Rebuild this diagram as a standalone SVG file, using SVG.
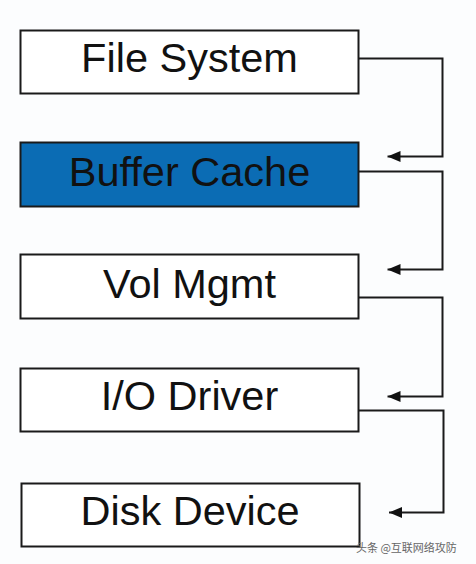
<svg xmlns="http://www.w3.org/2000/svg" width="476" height="564" viewBox="0 0 476 564">
<style>
.box{fill:#ffffff;stroke:#1a1a1a;stroke-width:2}
.blue{fill:#0b6cb4;stroke:#1a1a1a;stroke-width:2}
.lbl{font-family:"Liberation Sans",Arial,sans-serif;font-size:41.5px;fill:#111;text-anchor:middle}
.conn{fill:none;stroke:#1a1a1a;stroke-width:2}
</style>
<defs>
<marker id="arr" viewBox="0 0 13 11" refX="13" refY="5.5" markerWidth="13" markerHeight="11" markerUnits="userSpaceOnUse" orient="auto">
<path d="M0,0 L13,5.5 L0,11 z" fill="#111"/>
</marker>
</defs>
<rect width="476" height="564" fill="#fcfdfe"/>
<g id="file-system">
<rect class="box" x="20.5" y="30.5" width="338" height="63"/>
<text class="lbl" x="189.5" y="71.5">File System</text>
</g>
<g id="buffer-cache">
<rect class="blue" x="20.5" y="142.5" width="338" height="64"/>
<text class="lbl" x="189.5" y="185.5">Buffer Cache</text>
</g>
<g id="vol-mgmt">
<rect class="box" x="20.5" y="254.5" width="338" height="64"/>
<text class="lbl" x="189.5" y="297.5">Vol Mgmt</text>
</g>
<g id="io-driver">
<rect class="box" x="20.5" y="368.5" width="338" height="63"/>
<text class="lbl" x="189.5" y="410">I/O Driver</text>
</g>
<g id="disk-device">
<rect class="box" x="21.5" y="483.5" width="338" height="63"/>
<text class="lbl" x="190" y="524.5">Disk Device</text>
</g>
<g id="connectors">
<path class="conn" d="M358.5,58.5 H442.5 V156.5 H387.5" marker-end="url(#arr)"/>
<path class="conn" d="M358.5,171.5 H442.5 V269.5 H387.5" marker-end="url(#arr)"/>
<path class="conn" d="M358.5,297.5 H442.5 V396.5 H387.5" marker-end="url(#arr)"/>
<path class="conn" d="M358.5,410.5 H443.5 V512.5 H389" marker-end="url(#arr)"/>
</g>
<text x="356" y="552" font-family="'Noto Sans CJK SC',sans-serif" font-size="11" fill="#666">头条 @互联网络攻防</text>
</svg>
